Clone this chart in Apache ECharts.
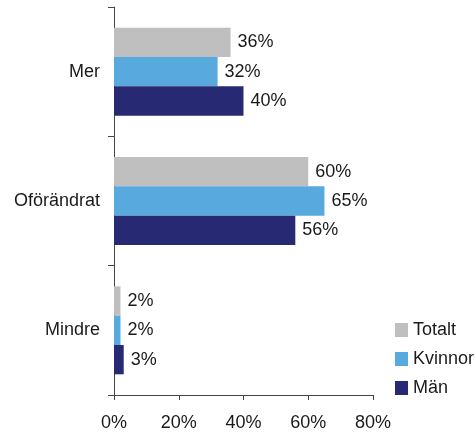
<!DOCTYPE html>
<html><head><meta charset="utf-8">
<script src="https://cdn.jsdelivr.net/npm/echarts@6/dist/echarts.min.js"></script>
<style>html,body{margin:0;padding:0;background:#fff}#c{width:476px;height:432px}</style>
</head><body><div id="c"></div>
<script>
const categories = ['Mer', 'Oförändrat', 'Mindre'];
const totalt = [36, 60, 2];
const kvinnor = [32, 65, 2];
const man = [40, 56, 3];
const seriesNames = ['Totalt', 'Kvinnor', 'Män'];
const xTicks = [0, 20, 40, 60, 80];

const colors = ['#BFBFBF', '#58A9DD', '#272A72'];
const FONT = 'Liberation Sans';
const chart = echarts.init(document.getElementById('c'), null, {renderer: 'canvas'});
function s(name, data, color) {
  return {
    name: name, type: 'bar', data: data,
    barGap: '0%', barCategoryGap: '32%',
    itemStyle: {color: color},
    label: {show: true, position: 'right', distance: 7, formatter: '{c}%',
      color: '#1a1a1a', fontFamily: FONT, fontSize: 18}
  };
}
chart.setOption({
  animation: false,
  color: colors,
  grid: {left: 114, right: 103, top: 7, bottom: 36, containLabel: false},
  legend: {
    orient: 'vertical', left: 390, top: 316,
    itemWidth: 13, itemHeight: 14, itemGap: 11,
    icon: 'rect',
    data: seriesNames,
    textStyle: {fontFamily: FONT, fontSize: 18, color: '#1a1a1a'}
  },
  xAxis: {
    type: 'value', min: xTicks[0], max: xTicks[xTicks.length - 1], interval: 20,
    splitLine: {show: false},
    axisLine: {show: true, lineStyle: {color: '#444', width: 1}},
    axisTick: {show: true, length: 5, lineStyle: {color: '#444'}},
    axisLabel: {formatter: '{value}%', margin: 19, fontFamily: FONT, fontSize: 18, color: '#1a1a1a'}
  },
  yAxis: {
    type: 'category', data: categories, inverse: true,
    axisLine: {show: true, lineStyle: {color: '#444', width: 1}},
    axisTick: {show: true, length: 6, lineStyle: {color: '#444'}},
    axisLabel: {margin: 14, fontFamily: FONT, fontSize: 18, color: '#1a1a1a'}
  },
  series: [s(seriesNames[0], totalt, colors[0]), s(seriesNames[1], kvinnor, colors[1]), s(seriesNames[2], man, colors[2])]
});
</script></body></html>
